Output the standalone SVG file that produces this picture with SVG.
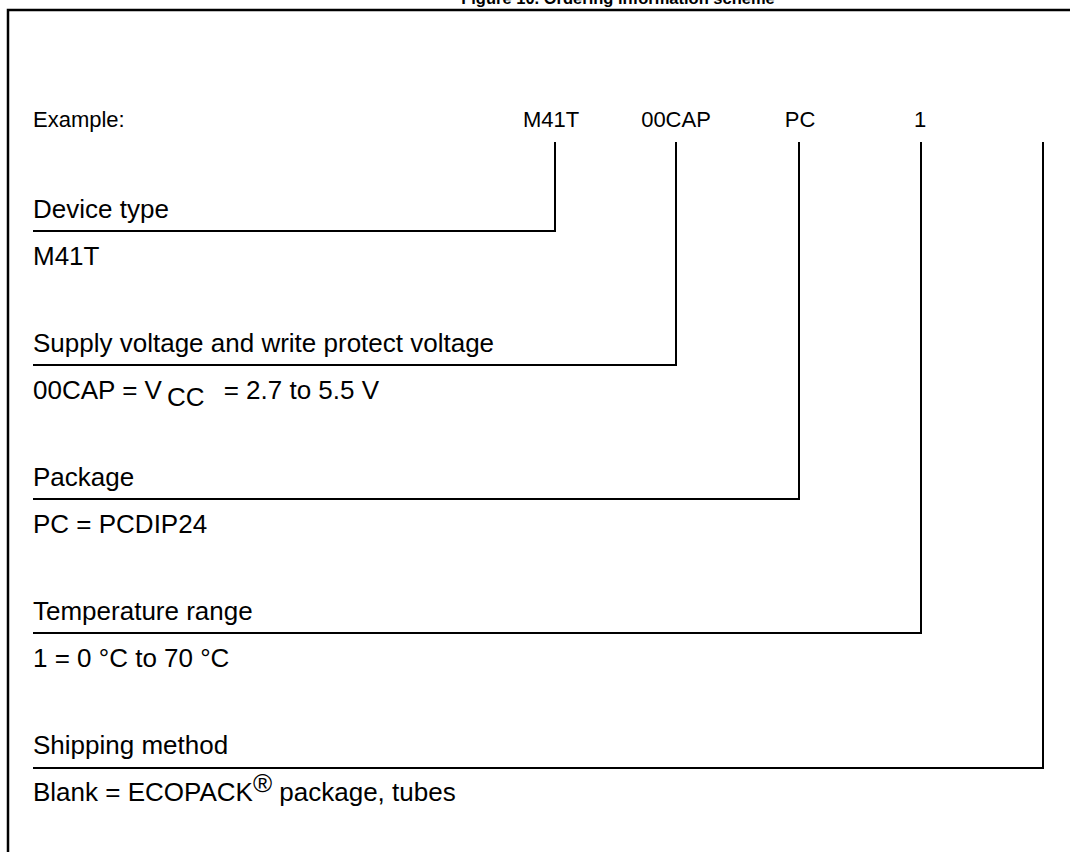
<svg xmlns="http://www.w3.org/2000/svg" width="1070" height="852" viewBox="0 0 1070 852">
<style>
text{font-family:"Liberation Sans",Arial,sans-serif;fill:#000}
.t{font-size:16.5px;font-weight:bold}
.ex{font-size:22px}
.c{text-anchor:middle}
.lb{font-size:26px}
.ln{stroke:#000;stroke-width:2;fill:none}
.fr{stroke:#000;stroke-width:2.5;fill:none}
</style>
<rect width="1070" height="852" fill="#fff"/>
<text class="t" x="618" y="4" text-anchor="middle">Figure 10. Ordering information scheme</text>
<path class="fr" d="M8,860 V10 H1080"/>
<g id="example">
<text class="ex" x="33" y="127">Example:</text>
<text class="ex c" x="551" y="127">M41T</text>
<text class="ex c" x="676" y="127">00CAP</text>
<text class="ex c" x="800" y="127">PC</text>
<text class="ex c" x="920" y="127">1</text>
</g>
<g id="connectors">
<path class="ln" d="M555,142 V231 H33"/>
<path class="ln" d="M676,142 V365 H33"/>
<path class="ln" d="M799,142 V499 H33"/>
<path class="ln" d="M921,142 V633 H33"/>
<path class="ln" d="M1043,142 V768 H33"/>
</g>
<g id="device-type">
<text class="lb" x="33" y="218">Device type</text>
<text class="lb" x="33" y="265">M41T</text>
</g>
<g id="supply-voltage">
<text class="lb" x="33" y="352">Supply voltage and write protect voltage</text>
<text class="lb" x="33" y="399">00CAP = V<tspan dx="5" dy="7">CC</tspan><tspan dx="12" dy="-7"> = 2.7 to 5.5 V</tspan></text>
</g>
<g id="package">
<text class="lb" x="33" y="486">Package</text>
<text class="lb" x="33" y="533">PC = PCDIP24</text>
</g>
<g id="temperature-range">
<text class="lb" x="33" y="620">Temperature range</text>
<text class="lb" x="33" y="667">1 = 0 °C to 70 °C</text>
</g>
<g id="shipping-method">
<text class="lb" x="33" y="754">Shipping method</text>
<text class="lb" x="33" y="801">Blank = ECOPACK<tspan dy="-9">®</tspan><tspan dy="9"> package, tubes</tspan></text>
</g>
</svg>
